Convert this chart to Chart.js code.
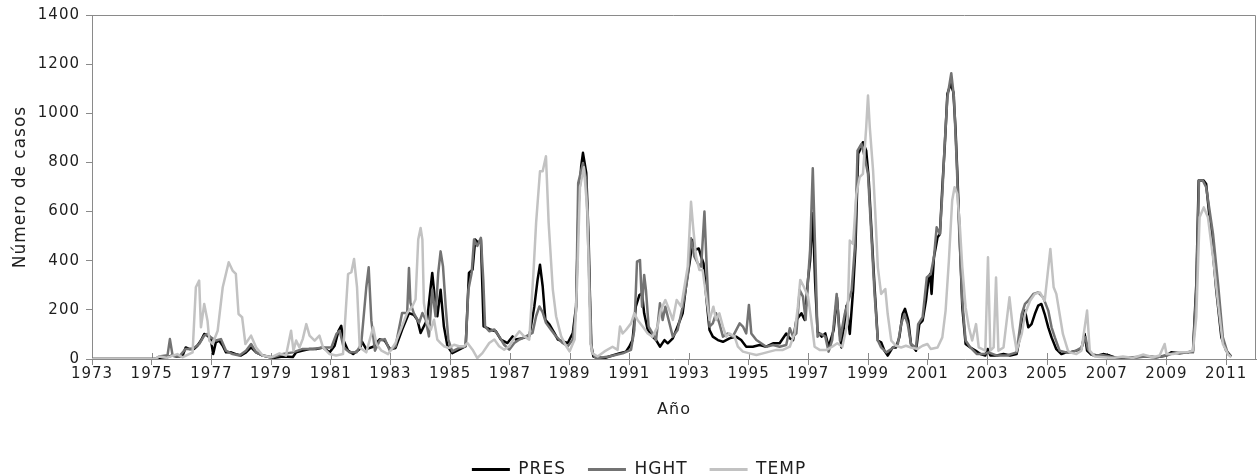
<!DOCTYPE html>
<html lang="es">
<head>
<meta charset="utf-8">
<title>Número de casos</title>
<script src="https://cdn.jsdelivr.net/npm/chart.js@4/dist/chart.umd.min.js"></script>
<style>
  html, body { margin: 0; padding: 0; background: #fff; }
</style>
</head>
<body>
<canvas id="grafico" width="1260" height="475"></canvas>
<script>
// Series mensuales: año (decimal) y número de casos
const presAnio = [
  1973, 1975.10, 1975.25, 1975.50, 1975.67, 1975.84, 1976.03, 1976.14, 1976.25, 1976.42,
  1976.53, 1976.65, 1976.76, 1976.87, 1976.98, 1977.06, 1977.15, 1977.26, 1977.38, 1977.49,
  1977.66, 1977.82, 1977.99, 1978.16, 1978.33, 1978.50, 1978.72, 1979.06, 1979.39, 1979.73,
  1979.84, 1980.06, 1980.29, 1980.51, 1980.74, 1980.96, 1981.13, 1981.26, 1981.35, 1981.43,
  1981.58, 1981.75, 1981.97, 1982.05, 1982.19, 1982.42, 1982.64, 1982.81, 1982.98, 1983.17,
  1983.39, 1983.62, 1983.78, 1983.90, 1984.01, 1984.12, 1984.23, 1984.35, 1984.40, 1984.48,
  1984.57, 1984.68, 1984.79, 1984.91, 1985.07, 1985.30, 1985.52, 1985.63, 1985.75, 1985.84,
  1985.95, 1986.03, 1986.12, 1986.25, 1986.36, 1986.53, 1986.70, 1986.81, 1986.92, 1987.09,
  1987.20, 1987.43, 1987.65, 1987.82, 1987.93, 1988.01, 1988.10, 1988.19, 1988.33, 1988.49,
  1988.61, 1988.77, 1988.94, 1989.11, 1989.22, 1989.30, 1989.39, 1989.45, 1989.56, 1989.64,
  1989.72, 1989.80, 1990.16, 1990.33, 1990.66, 1990.89, 1991.00, 1991.11, 1991.22, 1991.34,
  1991.43, 1991.50, 1991.62, 1991.78, 1991.90, 1992.03, 1992.18, 1992.29, 1992.46, 1992.62,
  1992.79, 1992.93, 1993.02, 1993.13, 1993.22, 1993.33, 1993.41, 1993.49, 1993.58, 1993.69,
  1993.80, 1993.97, 1994.14, 1994.36, 1994.58, 1994.75, 1994.92, 1995.14, 1995.37, 1995.59,
  1995.82, 1996.04, 1996.26, 1996.38, 1996.49, 1996.60, 1996.77, 1996.88, 1996.99, 1997.06,
  1997.15, 1997.23, 1997.31, 1997.45, 1997.57, 1997.68, 1997.85, 1997.96, 1998.04, 1998.11,
  1998.28, 1998.39, 1998.50, 1998.58, 1998.67, 1998.72, 1998.83, 1998.94, 1999.02, 1999.11,
  1999.22, 1999.33, 1999.44, 1999.55, 1999.66, 1999.83, 1999.94, 2000.05, 2000.16, 2000.24,
  2000.35, 2000.44, 2000.61, 2000.72, 2000.83, 2000.94, 2001.02, 2001.08, 2001.13, 2001.21,
  2001.33, 2001.41, 2001.49, 2001.57, 2001.66, 2001.77, 2001.86, 2001.93, 2001.99, 2002.08,
  2002.16, 2002.27, 2002.43, 2002.60, 2002.77, 2002.93, 2003.01, 2003.10, 2003.32, 2003.54,
  2003.76, 2003.98, 2004.15, 2004.26, 2004.37, 2004.48, 2004.59, 2004.70, 2004.81, 2004.92,
  2005.04, 2005.15, 2005.31, 2005.48, 2005.64, 2005.76, 2005.98, 2006.15, 2006.26, 2006.34,
  2006.48, 2006.71, 2006.88, 2007.10, 2007.32, 2007.66, 2007.99, 2008.33, 2008.66, 2009.00,
  2009.16, 2009.44, 2009.72, 2009.89, 2010.00, 2010.08, 2010.25, 2010.33, 2010.50, 2010.67,
  2010.84, 2011.00, 2011.17
];
const presCasos = [
  0, 0, 5, 7, 14, 10, 12, 47, 41, 41,
  54, 75, 102, 95, 81, 20, 68, 75, 54, 27,
  27, 20, 14, 27, 47, 27, 14, 4, 10, 8,
  27, 34, 41, 41, 47, 27, 54, 115, 135, 75,
  34, 20, 41, 70, 40, 50, 80, 75, 40, 45,
  119, 187, 180, 160, 106, 133, 160, 296, 350, 255,
  174, 282, 133, 52, 24, 38, 52, 350, 364, 486,
  472, 486, 133, 126, 119, 113, 79, 72, 65, 92,
  79, 85, 92, 214, 323, 384, 296, 160, 140, 106,
  79, 72, 65, 106, 214, 621, 784, 839, 757, 486,
  60, 10, 3, 10, 23, 30, 50, 77, 213, 260,
  267, 186, 118, 91, 77, 50, 77, 64, 84, 132,
  186, 322, 389, 484, 444, 450, 417, 389, 254, 118,
  91, 77, 70, 84, 91, 77, 50, 50, 57, 50,
  64, 64, 104, 84, 77, 159, 186, 159, 322, 400,
  593, 308, 111, 91, 104, 50, 118, 251, 120, 47,
  217, 102, 278, 455, 835, 848, 882, 848, 740, 536,
  292, 75, 68, 34, 14, 47, 47, 88, 183, 204,
  156, 61, 34, 142, 156, 237, 319, 346, 265, 414,
  495, 509, 699, 862, 1079, 1120, 1086, 943, 767, 468,
  210, 61, 47, 34, 20, 14, 41, 14, 14, 20,
  14, 20, 129, 197, 129, 142, 183, 217, 224, 183,
  129, 88, 40, 20, 27, 27, 34, 41, 102, 34,
  18, 14, 20, 14, 4, 4, 7, 10, 7, 14,
  27, 23, 27, 34, 305, 726, 726, 712, 509, 278,
  88, 34, 10
];

const hghtAnio = [
  1973, 1975.10, 1975.25, 1975.53, 1975.61, 1975.70, 1975.92, 1976.14, 1976.37, 1976.59,
  1976.76, 1976.87, 1976.98, 1977.15, 1977.32, 1977.49, 1977.71, 1977.94, 1978.16, 1978.33,
  1978.50, 1978.72, 1979.06, 1979.39, 1979.73, 1980.06, 1980.40, 1980.74, 1981.02, 1981.19,
  1981.30, 1981.43, 1981.63, 1981.86, 1982.02, 1982.19, 1982.27, 1982.36, 1982.48, 1982.64,
  1982.81, 1982.98, 1983.17, 1983.39, 1983.56, 1983.62, 1983.67, 1983.78, 1983.96, 1984.07,
  1984.18, 1984.29, 1984.40, 1984.51, 1984.60, 1984.68, 1984.76, 1984.85, 1984.94, 1985.07,
  1985.30, 1985.52, 1985.61, 1985.72, 1985.80, 1985.91, 1986.03, 1986.11, 1986.17, 1986.31,
  1986.48, 1986.64, 1986.81, 1986.98, 1987.15, 1987.32, 1987.54, 1987.76, 1987.88, 1987.99,
  1988.10, 1988.21, 1988.38, 1988.55, 1988.77, 1988.94, 1989.11, 1989.22, 1989.29, 1989.45,
  1989.56, 1989.67, 1989.75, 1989.88, 1990.33, 1990.78, 1991.06, 1991.17, 1991.26, 1991.36,
  1991.43, 1991.50, 1991.56, 1991.65, 1991.78, 1991.90, 1992.03, 1992.12, 1992.21, 1992.32,
  1992.46, 1992.62, 1992.79, 1992.96, 1993.07, 1993.18, 1993.30, 1993.41, 1993.52, 1993.60,
  1993.69, 1993.80, 1993.91, 1994.02, 1994.14, 1994.30, 1994.47, 1994.70, 1994.81, 1994.92,
  1995.01, 1995.09, 1995.26, 1995.42, 1995.59, 1995.82, 1996.04, 1996.26, 1996.38, 1996.49,
  1996.60, 1996.71, 1996.82, 1996.91, 1996.99, 1997.06, 1997.15, 1997.23, 1997.31, 1997.40,
  1997.57, 1997.68, 1997.80, 1997.95, 1998.06, 1998.22, 1998.34, 1998.45, 1998.56, 1998.65,
  1998.78, 1998.89, 1999.00, 1999.11, 1999.22, 1999.33, 1999.44, 1999.61, 1999.78, 2000.00,
  2000.11, 2000.22, 2000.33, 2000.44, 2000.61, 2000.68, 2000.83, 2000.97, 2001.10, 2001.21,
  2001.30, 2001.41, 2001.49, 2001.57, 2001.66, 2001.79, 2001.88, 2001.97, 2002.05, 2002.16,
  2002.27, 2002.43, 2002.65, 2002.88, 2003.04, 2003.32, 2003.65, 2003.98, 2004.15, 2004.26,
  2004.37, 2004.54, 2004.70, 2004.87, 2005.04, 2005.15, 2005.26, 2005.42, 2005.64, 2005.76,
  2005.98, 2006.15, 2006.29, 2006.37, 2006.54, 2006.88, 2007.21, 2007.66, 2008.21, 2008.66,
  2009.00, 2009.22, 2009.67, 2009.89, 2010.00, 2010.09, 2010.22, 2010.33, 2010.56, 2010.73,
  2010.89, 2011.06, 2011.17
];
const hghtCasos = [
  0, 0, 10, 15, 81, 14, 10, 41, 41, 61,
  95, 102, 88, 75, 81, 34, 20, 14, 34, 61,
  27, 14, 7, 20, 27, 41, 41, 47, 47, 102,
  115, 47, 27, 27, 61, 292, 373, 156, 34, 75,
  81, 34, 52, 187, 187, 370, 228, 187, 147, 187,
  160, 92, 282, 174, 350, 438, 377, 214, 79, 31,
  45, 52, 282, 350, 486, 460, 493, 323, 133, 113,
  120, 92, 58, 38, 65, 79, 92, 106, 174, 214,
  190, 147, 119, 92, 65, 52, 79, 200, 716, 798,
  730, 282, 30, 3, 10, 23, 37, 118, 396, 403,
  213, 342, 281, 132, 104, 77, 227, 159, 213, 159,
  91, 118, 213, 335, 491, 417, 389, 376, 600, 362,
  132, 145, 186, 145, 91, 104, 91, 145, 132, 104,
  220, 104, 77, 64, 50, 57, 50, 57, 125, 91,
  104, 281, 254, 159, 322, 444, 776, 444, 91, 104,
  91, 30, 77, 265, 75, 183, 237, 278, 455, 848,
  875, 821, 753, 509, 265, 75, 47, 27, 41, 61,
  142, 183, 142, 61, 47, 142, 170, 332, 346, 414,
  536, 509, 672, 875, 1065, 1163, 1065, 807, 536, 237,
  75, 47, 20, 20, 27, 14, 14, 27, 183, 224,
  237, 265, 271, 251, 197, 129, 88, 34, 27, 27,
  34, 47, 88, 40, 14, 15, 7, 5, 10, 7,
  14, 23, 27, 27, 278, 726, 726, 699, 509, 305,
  88, 20, 10
];

const tempAnio = [
  1973, 1975.10, 1975.25, 1975.50, 1975.86, 1976.03, 1976.37, 1976.48, 1976.59, 1976.65,
  1976.76, 1976.87, 1976.93, 1977.04, 1977.21, 1977.38, 1977.58, 1977.71, 1977.82, 1977.91,
  1978.03, 1978.14, 1978.33, 1978.50, 1978.72, 1979.00, 1979.28, 1979.50, 1979.67, 1979.75,
  1979.84, 1979.95, 1980.06, 1980.18, 1980.29, 1980.46, 1980.62, 1980.74, 1980.96, 1981.18,
  1981.41, 1981.58, 1981.69, 1981.78, 1981.88, 1981.97, 1982.19, 1982.42, 1982.53, 1982.70,
  1982.92, 1983.17, 1983.39, 1983.56, 1983.73, 1983.84, 1983.93, 1984.01, 1984.07, 1984.12,
  1984.23, 1984.35, 1984.46, 1984.57, 1984.68, 1984.79, 1984.96, 1985.13, 1985.30, 1985.47,
  1985.58, 1985.75, 1985.91, 1986.08, 1986.31, 1986.48, 1986.64, 1986.81, 1986.98, 1987.15,
  1987.32, 1987.48, 1987.65, 1987.79, 1987.88, 1988.01, 1988.10, 1988.21, 1988.30, 1988.44,
  1988.55, 1988.72, 1988.89, 1989.00, 1989.17, 1989.25, 1989.35, 1989.48, 1989.60, 1989.70,
  1989.77, 1989.94, 1990.16, 1990.44, 1990.61, 1990.69, 1990.78, 1990.89, 1991.06, 1991.17,
  1991.28, 1991.45, 1991.62, 1991.78, 1991.95, 1992.06, 1992.21, 1992.34, 1992.46, 1992.59,
  1992.74, 1992.85, 1992.96, 1993.07, 1993.15, 1993.24, 1993.35, 1993.46, 1993.58, 1993.69,
  1993.82, 1993.91, 1994.02, 1994.14, 1994.25, 1994.36, 1994.53, 1994.64, 1994.81, 1995.03,
  1995.26, 1995.48, 1995.70, 1995.93, 1996.15, 1996.38, 1996.54, 1996.65, 1996.73, 1996.85,
  1996.99, 1997.10, 1997.21, 1997.38, 1997.61, 1997.80, 1997.97, 1998.14, 1998.31, 1998.39,
  1998.50, 1998.61, 1998.72, 1998.83, 1998.94, 1999.00, 1999.06, 1999.17, 1999.24, 1999.33,
  1999.44, 1999.58, 1999.66, 1999.78, 1999.94, 2000.11, 2000.27, 2000.44, 2000.66, 2000.83,
  2000.99, 2001.10, 2001.33, 2001.49, 2001.60, 2001.71, 2001.82, 2001.90, 2001.99, 2002.08,
  2002.16, 2002.27, 2002.38, 2002.49, 2002.62, 2002.71, 2002.93, 2003.02, 2003.10, 2003.21,
  2003.29, 2003.37, 2003.54, 2003.74, 2003.85, 2003.98, 2004.15, 2004.26, 2004.43, 2004.59,
  2004.76, 2004.92, 2005.11, 2005.22, 2005.31, 2005.42, 2005.53, 2005.70, 2005.76, 2005.98,
  2006.15, 2006.26, 2006.34, 2006.43, 2006.60, 2006.88, 2007.21, 2007.54, 2007.88, 2008.21,
  2008.55, 2008.77, 2008.94, 2009.00, 2009.22, 2009.44, 2009.67, 2009.89, 2010.00, 2010.11,
  2010.25, 2010.39, 2010.56, 2010.73, 2010.89, 2011.06, 2011.17
];
const tempCasos = [
  0, 0, 10, 5, 20, 7, 27, 292, 319, 129,
  224, 156, 75, 61, 115, 292, 394, 360, 346, 183,
  170, 61, 95, 47, 14, 7, 23, 14, 115, 34,
  75, 47, 81, 142, 95, 75, 95, 47, 20, 14,
  20, 346, 353, 407, 292, 47, 27, 129, 61, 34,
  20, 65, 133, 187, 214, 242, 486, 533, 486, 228,
  147, 119, 160, 79, 65, 52, 45, 58, 52, 52,
  65, 38, 4, 24, 65, 79, 52, 38, 52, 85,
  113, 92, 79, 350, 554, 764, 764, 825, 554, 282,
  174, 92, 52, 31, 79, 300, 700, 780, 600, 64,
  23, 10, 30, 50, 37, 132, 104, 118, 145, 186,
  159, 132, 104, 91, 132, 200, 240, 200, 159, 240,
  213, 294, 376, 640, 525, 417, 362, 362, 254, 159,
  213, 159, 186, 132, 91, 104, 91, 50, 30, 23,
  16, 23, 30, 37, 37, 50, 104, 213, 322, 294,
  254, 159, 50, 37, 37, 50, 64, 50, 145, 482,
  468, 672, 740, 753, 943, 1072, 943, 767, 604, 373,
  265, 285, 183, 75, 54, 47, 54, 47, 41, 54,
  61, 41, 47, 88, 197, 400, 645, 699, 672, 536,
  373, 210, 129, 75, 142, 47, 34, 414, 34, 47,
  332, 34, 47, 251, 129, 34, 102, 183, 237, 265,
  271, 237, 448, 292, 265, 183, 102, 34, 27, 20,
  34, 129, 197, 34, 10, 7, 4, 10, 4, 18,
  7, 14, 61, 20, 20, 27, 27, 34, 170, 577,
  617, 577, 414, 224, 61, 20, 7
];

// etiquetas del eje X (cada dos años) y escala del eje Y
const aniosEje = [1973, 1975, 1977, 1979, 1981, 1983, 1985, 1987, 1989, 1991,
                  1993, 1995, 1997, 1999, 2001, 2003, 2005, 2007, 2009, 2011];
const anioMin = 1973;
const anioMax = 2012;
const casosMax = 1400;
const pasoCasos = 200;

const colorEje = '#8a8a8a';
const colorTexto = '#1e1e1e';

Chart.defaults.font.family = "'DejaVu Sans', Verdana, sans-serif";
Chart.defaults.color = colorTexto;

const puntos = (anios, casos) => anios.map((x, i) => ({ x: x, y: casos[i] }));

// marco del área de trazado y marcas del eje X que cruzan la línea base
const marco = {
  id: 'marco',
  beforeUpdate(chart) { chart.ctx.letterSpacing = '1px'; },
  beforeDraw(chart) { chart.ctx.letterSpacing = '1px'; },
  afterLayout(chart) {
    const lg = chart.legend;
    lg.top += 13; lg.bottom += 13;
    lg.left += 11; lg.right += 11;
  },
  beforeDatasetsDraw(chart) {
    const { ctx, chartArea: a, scales: { x } } = chart;
    ctx.save();
    ctx.strokeStyle = colorEje;
    ctx.lineWidth = 1;
    ctx.beginPath();
    ctx.moveTo(a.left, a.top + 0.5);
    ctx.lineTo(a.right - 0.5, a.top + 0.5);
    ctx.lineTo(a.right - 0.5, a.bottom);
    ctx.stroke();
    aniosEje.forEach(v => {
      const px = Math.round(x.getPixelForValue(v)) + 0.5;
      ctx.beginPath();
      ctx.moveTo(px, a.bottom);
      ctx.lineTo(px, a.bottom - 6);
      ctx.stroke();
    });
    ctx.restore();
  }
};

new Chart(document.getElementById('grafico'), {
  type: 'line',
  data: {
    datasets: [{
      label: 'PRES',
      data: puntos(presAnio, presCasos),
      borderColor: '#000000',
      backgroundColor: '#000000',
      order: 3
    }, {
      label: 'HGHT',
      data: puntos(hghtAnio, hghtCasos),
      borderColor: '#737373',
      backgroundColor: '#737373',
      order: 2
    }, {
      label: 'TEMP',
      data: puntos(tempAnio, tempCasos),
      borderColor: '#c2c2c2',
      backgroundColor: '#c2c2c2',
      order: 1
    }]
  },
  options: {
    responsive: false,
    animation: false,
    devicePixelRatio: 1,
    layout: { padding: { top: 15, right: 4, left: 0, bottom: 0 } },
    elements: {
      point: { radius: 0 },
      line: { borderWidth: 2.5, tension: 0, borderJoinStyle: 'round' }
    },
    plugins: {
      tooltip: { enabled: false },
      legend: {
        position: 'bottom',
        labels: {
          boxWidth: 38,
          boxHeight: 3,
          padding: 22,
          font: { size: 17 },
          color: colorTexto,
          sort: (a, b) => a.datasetIndex - b.datasetIndex,
          generateLabels: chart => Chart.defaults.plugins.legend.labels.generateLabels(chart)
            .map(item => Object.assign(item, { lineWidth: 0 }))
        }
      }
    },
    scales: {
      x: {
        type: 'linear',
        min: anioMin,
        max: anioMax,
        afterBuildTicks: scale => { scale.ticks = aniosEje.map(v => ({ value: v })); },
        afterFit: scale => { scale.height = 67; },
        grid: { drawOnChartArea: false, tickLength: 6, color: colorEje },
        border: { color: colorEje },
        ticks: {
          padding: 0,
          maxRotation: 0,
          autoSkip: false,
          font: { size: 15 },
          color: colorTexto,
          callback: v => String(v)
        },
        title: {
          display: true,
          text: 'Año',
          font: { size: 16 },
          color: colorTexto,
          padding: { top: 0, bottom: 7 }
        }
      },
      y: {
        min: 0,
        max: casosMax,
        afterFit: scale => { scale.width = 92; },
        grid: { drawOnChartArea: false, tickLength: 6, color: colorEje },
        border: { color: colorEje },
        ticks: {
          stepSize: pasoCasos,
          padding: 6,
          font: { size: 15 },
          color: colorTexto,
          callback: v => String(v)
        },
        title: {
          display: true,
          text: 'Número de casos',
          font: { size: 17 },
          color: colorTexto,
          padding: { top: 10, bottom: 0 }
        }
      }
    }
  },
  plugins: [marco]
});
</script>
</body>
</html>
